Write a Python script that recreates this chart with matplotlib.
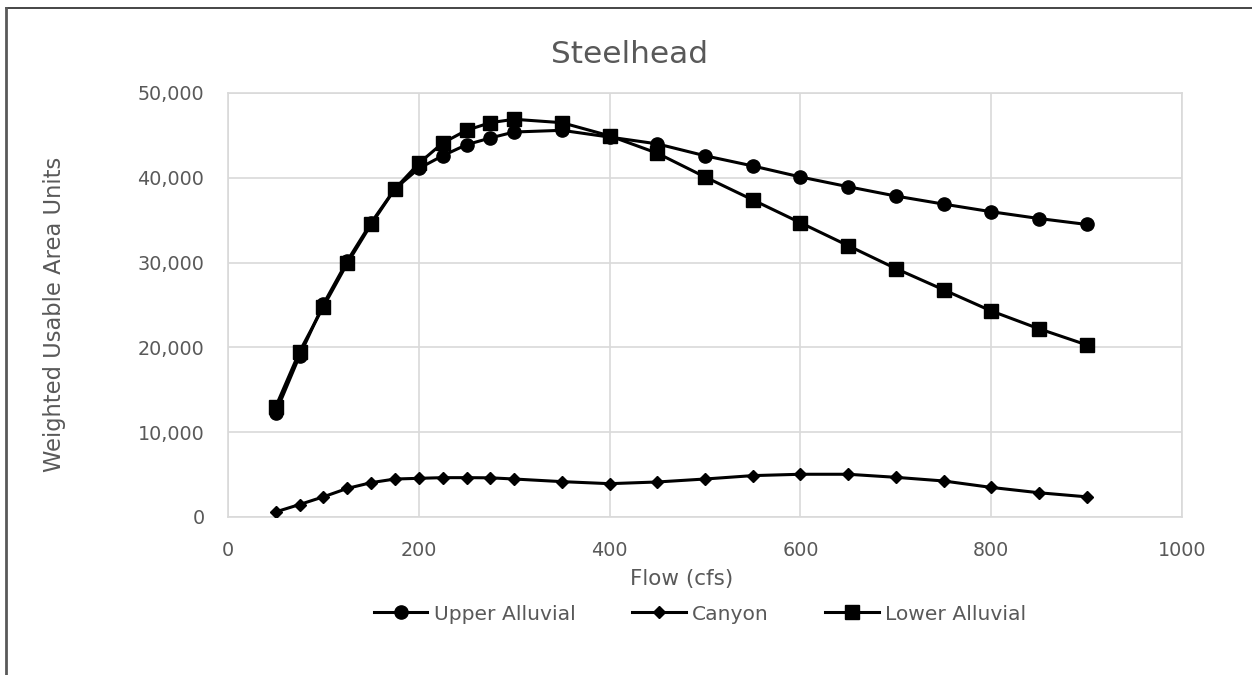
import matplotlib
matplotlib.use("Agg")
import matplotlib.pyplot as plt
from matplotlib.lines import Line2D
from matplotlib.ticker import FuncFormatter

flow = [50, 75, 100, 125, 150, 175, 200, 225, 250, 275, 300, 350, 400,
        450, 500, 550, 600, 650, 700, 750, 800, 850, 900]
upper_alluvial = [12300, 19000, 25100, 30200, 34700, 38700, 41100, 42600, 43900,
                  44700, 45400, 45600, 44800, 44000, 42600, 41400, 40100, 38950,
                  37850, 36900, 36000, 35200, 34500]
canyon = [600, 1470, 2380, 3370, 4050, 4480, 4560, 4640, 4640, 4620, 4480, 4170,
          3930, 4130, 4480, 4880, 5040, 5040, 4680, 4250, 3490, 2860, 2380]
lower_alluvial = [13000, 19500, 24800, 29900, 34500, 38700, 41700, 44100, 45600,
                  46500, 46900, 46500, 44950, 42900, 40100, 37400, 34700, 32000,
                  29300, 26800, 24300, 22200, 20300]

title = "Steelhead"
xlabel = "Flow (cfs)"
ylabel = "Weighted Usable Area Units"
xticks = [0, 200, 400, 600, 800, 1000]
yticks = [0, 10000, 20000, 30000, 40000, 50000]

plt.rcParams['font.family'] = ['DejaVu Sans']

txt = '#595959'
grid = '#d9d9d9'
W, H = 1252, 675

fig = plt.figure(figsize=(12.52, 6.75), dpi=100)
ax = fig.add_axes([228/W, 1-517/H, (1182-228)/W, (517-93)/H])

lw = 2.2
ax.plot(flow, upper_alluvial, color='black', lw=lw, marker='o', ms=9.5, label='Upper Alluvial', zorder=3)
ax.plot(flow, canyon, color='black', lw=lw, marker='D', ms=6.3, label='Canyon', zorder=3)
ax.plot(flow, lower_alluvial, color='black', lw=lw, marker='s', ms=9.5, label='Lower Alluvial', zorder=3)

ax.set_xlim(0, 1000)
ax.set_ylim(0, 50000)
ax.set_xticks(xticks)
ax.set_yticks(yticks)
ax.yaxis.set_major_formatter(FuncFormatter(lambda v, p: f"{int(v):,}"))
ax.grid(True, color=grid, lw=1.2, zorder=0)
for s in ax.spines.values():
    s.set_color(grid)
    s.set_linewidth(1.2)
ax.tick_params(axis='both', length=0, labelsize=13.8, labelcolor=txt)
ax.tick_params(axis='y', pad=17)
ax.tick_params(axis='x', pad=17)

fig.text(630/W, 1-63/H, title, fontsize=22.5, color=txt, ha='center', va='baseline')
fig.text(682/W, 1-585/H, xlabel, fontsize=15.5, color=txt, ha='center', va='baseline')
fig.text(55/W, 1-314/H, ylabel, fontsize=16.3, color=txt, ha='center', va='center', rotation=90)

leg = fig.legend(*ax.get_legend_handles_labels(), loc='center', bbox_to_anchor=(700/W, 1-614/H),
                 ncol=3, frameon=False, prop={'size': 14.6},
                 handlelength=2.65, handletextpad=0.3, columnspacing=2.8, labelcolor=txt,
                 borderpad=0, borderaxespad=0)

fig.add_artist(Line2D([6/W, 1], [1-8/H, 1-8/H], transform=fig.transFigure,
                      color='#262626', lw=1.2))
fig.add_artist(Line2D([6/W, 6/W], [0, 1-8/H], transform=fig.transFigure,
                      color='#595959', lw=2))

fig.savefig('out.png', dpi=100)
